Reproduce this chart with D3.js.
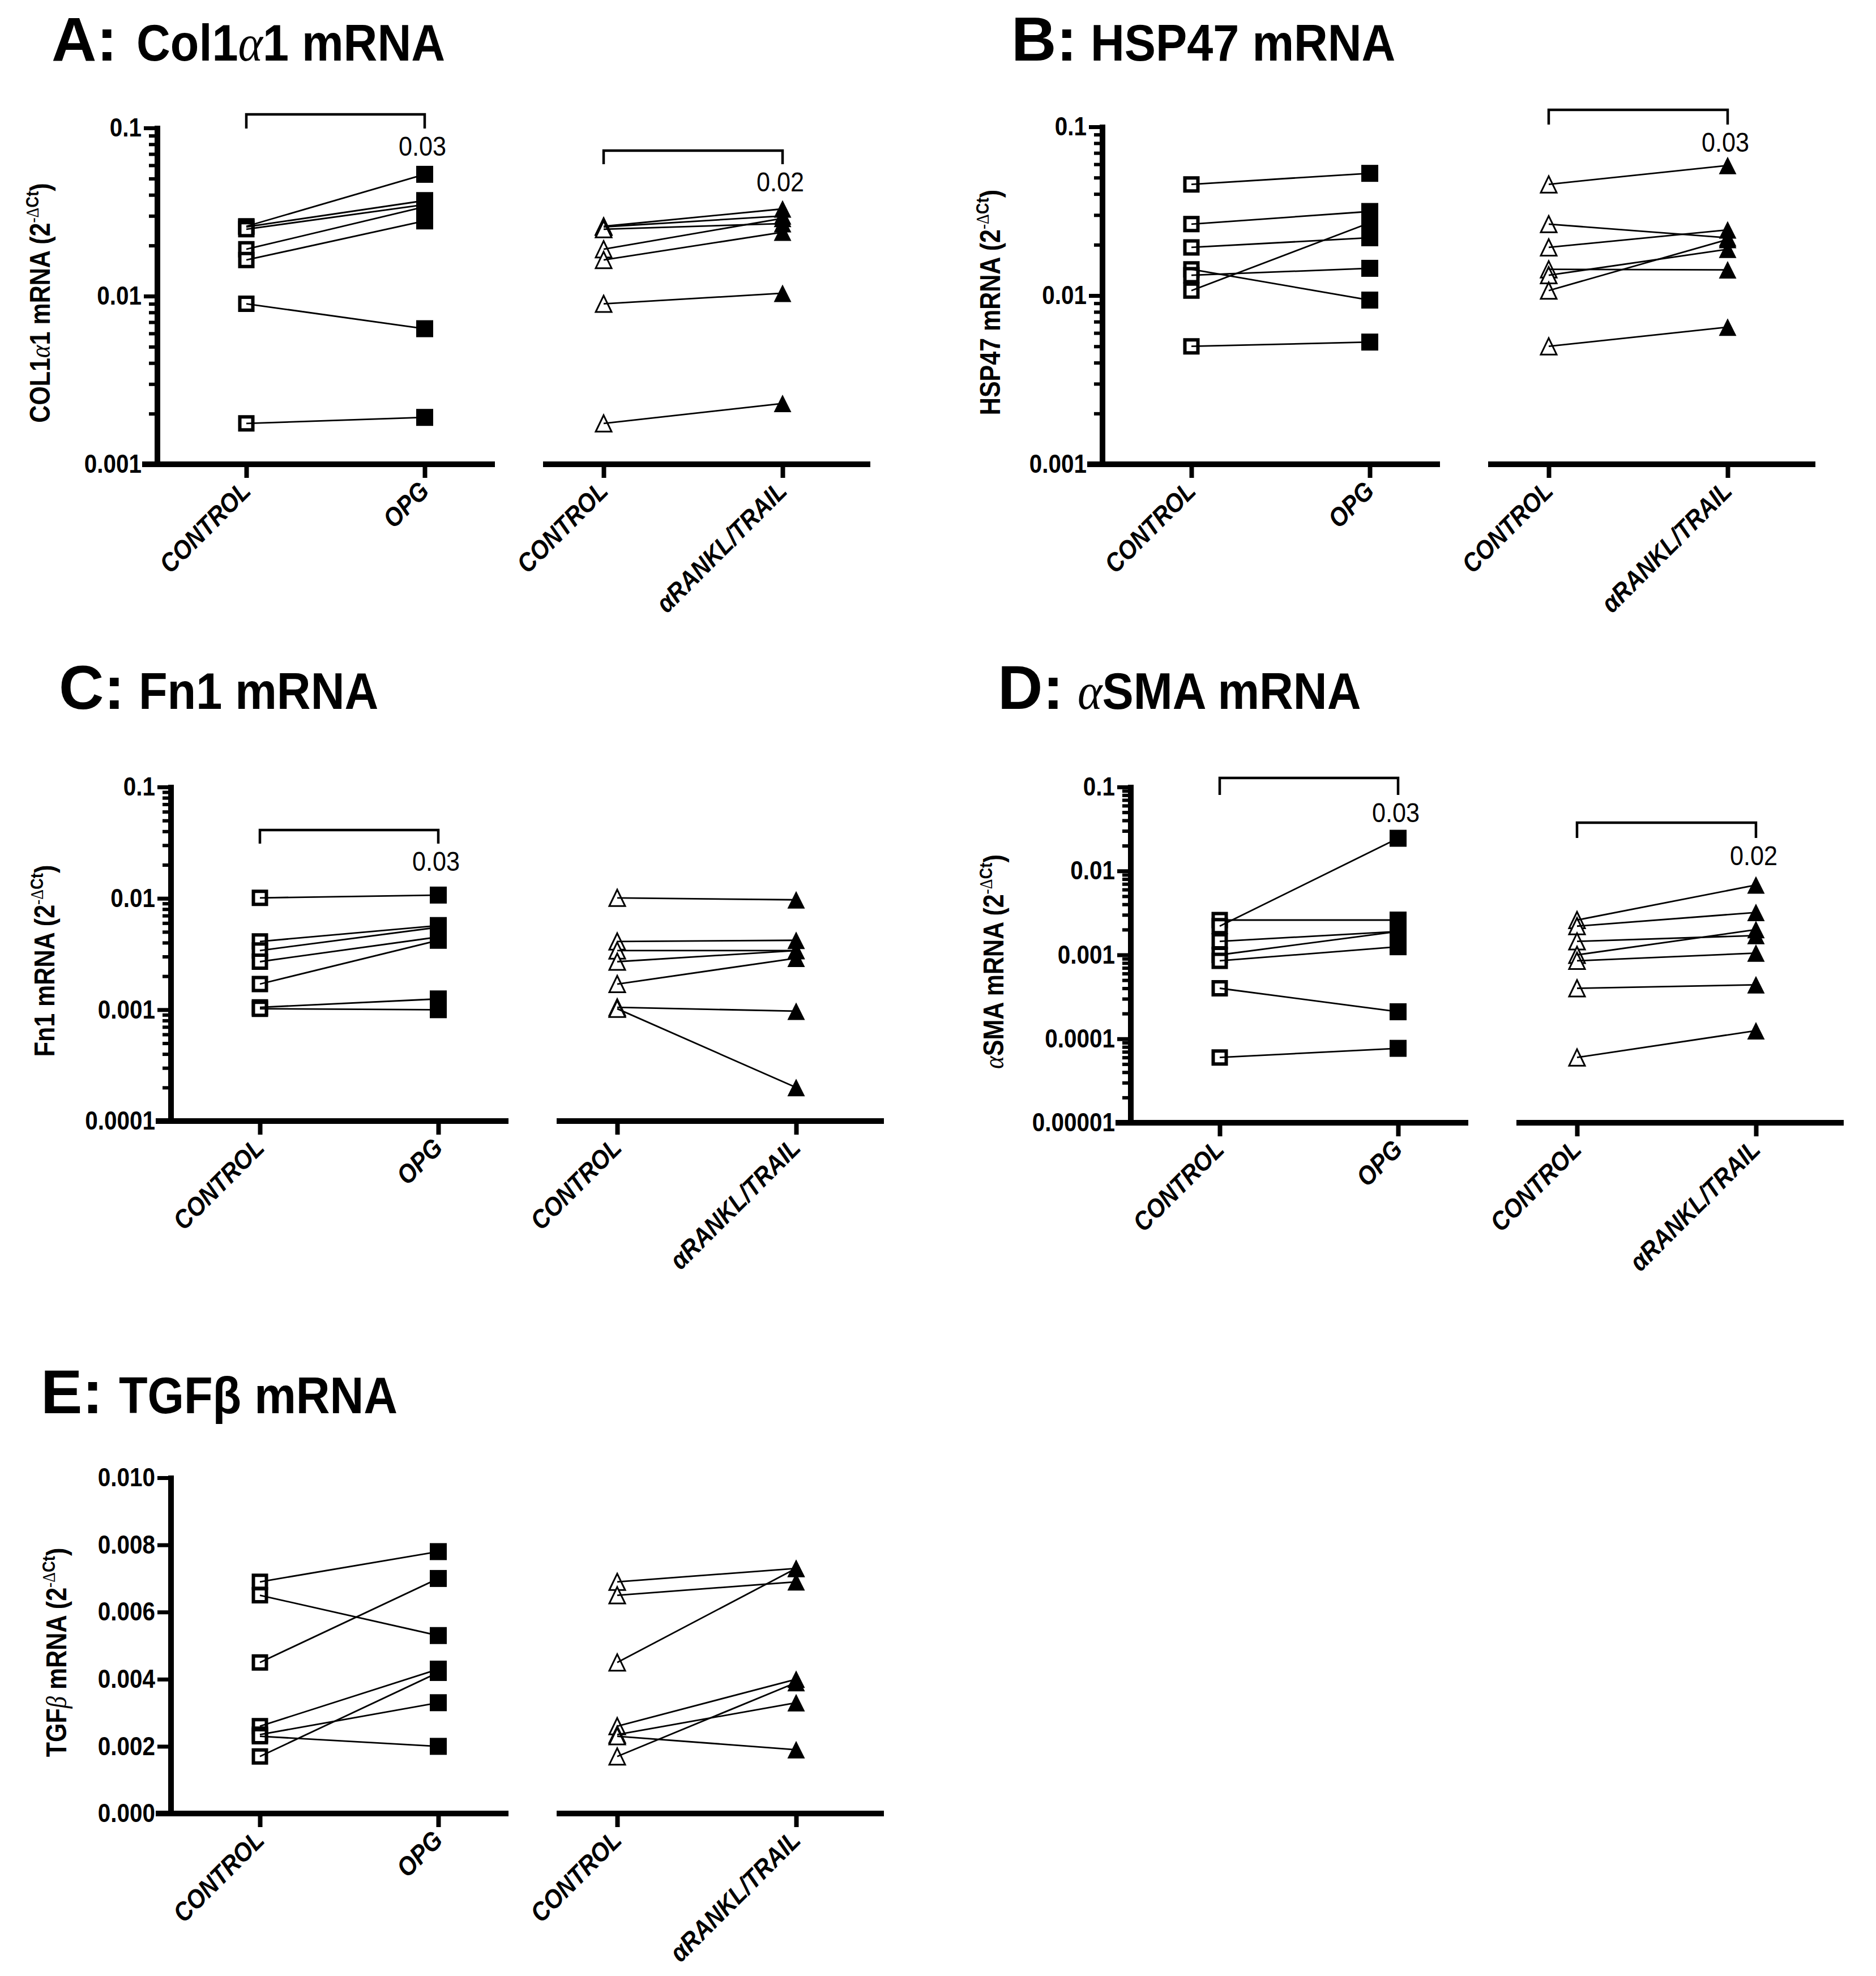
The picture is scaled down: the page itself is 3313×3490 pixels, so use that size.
<!DOCTYPE html>
<html>
<head>
<meta charset="utf-8">
<style>
  body { margin: 0; background: #fff; }
</style>
</head>
<body>
<script src="https://cdn.jsdelivr.net/npm/d3@7"></script>
<script>
// ---- categories ----
const leftGroups = ["CONTROL", "OPG"];
const rightGroups = ["CONTROL", "αRANKL/TRAIL"];

// ---- values, one entry per donor ----
// A: Col1a1
const col1a1Control = [0.026, 0.0258, 0.025, 0.019, 0.0164, 0.009, 0.00175];
const col1a1Opg     = [0.053, 0.037, 0.035, 0.034, 0.028, 0.0064, 0.0019];
const col1a1Rankl   = [0.033, 0.030, 0.027, 0.029, 0.024, 0.0104, 0.0023];
// B: HSP47
const hsp47Control = [0.0456, 0.0265, 0.0193, 0.0143, 0.0132, 0.0107, 0.0050];
const hsp47Opg     = [0.053, 0.0315, 0.022, 0.0094, 0.0145, 0.027, 0.0053];
const hsp47Rankl   = [0.059, 0.022, 0.0245, 0.0142, 0.0188, 0.0215, 0.0065];
// C: Fn1
const fn1Control = [0.0101, 0.0041, 0.0034, 0.0027, 0.0017, 0.00105, 0.00102];
const fn1Opg     = [0.0107, 0.0057, 0.0055, 0.0045, 0.0042, 0.00125, 0.0010];
const fn1Rankl   = [0.0097, 0.0042, 0.0034, 0.0034, 0.0029, 0.00097, 0.0002];
// D: aSMA
const smaControl = [0.0026, 0.0022, 0.00145, 0.001, 0.00085, 0.0004, 0.00006];
const smaOpg     = [0.0026, 0.0245, 0.0019, 0.0019, 0.00125, 0.00021, 0.000077];
const smaRankl   = [0.0068, 0.0032, 0.0017, 0.002, 0.00105, 0.00044, 0.000125];
// E: TGFb
const tgfbControl = [0.0069, 0.0065, 0.0045, 0.0026, 0.00235, 0.0023, 0.0017];
const tgfbOpg     = [0.0078, 0.0053, 0.0070, 0.0043, 0.0033, 0.0020, 0.0042];
const tgfbRankl   = [0.0073, 0.0069, 0.0073, 0.0040, 0.0033, 0.0019, 0.0039];

// ---- y tick values ----
const ticks3 = [0.001, 0.01, 0.1];
const ticks4 = [0.0001, 0.001, 0.01, 0.1];
const ticks5 = [0.00001, 0.0001, 0.001, 0.01, 0.1];
const ticksLin = [0, 0.002, 0.004, 0.006, 0.008, 0.010];

// p values shown over brackets (left pair, right pair)
const col1a1P = ["0.03", "0.02"];
const hsp47P  = [null, "0.03"];
const fn1P    = ["0.03", null];
const smaP    = ["0.03", "0.02"];

const FONT = '"Liberation Sans", Arial, Helvetica, sans-serif';
const SERIF = '"Liberation Serif", "Times New Roman", serif';

// panel layout (pixels); brackets are offsets from the plot top
const panels = [
  { prefix: "A:", name: [["Col1"], ["α", 1], ["1 mRNA"]],
    ylab: [["COL1"], ["α", 1], ["1 mRNA (2"]],
    control: col1a1Control, left: col1a1Opg, right: col1a1Rankl, ticks: ticks3, log: true, p: col1a1P,
    x: 278, top: 226, bottom: 820, tx: 91, tx2: 241, ty: 107, ylx: -190,
    br: [{ y: -24, foot: 1 }, { y: 40, foot: 64 }] },
  { prefix: "B:", name: [["HSP47 mRNA"]],
    ylab: [["HSP47 mRNA (2"]],
    control: hsp47Control, left: hsp47Opg, right: hsp47Rankl, ticks: ticks3, log: true, p: hsp47P,
    x: 1947, top: 224, bottom: 820, tx: 1786, tx2: 1926, ty: 107, ylx: -181,
    br: [null, { y: -30, foot: -4 }] },
  { prefix: "C:", name: [["Fn1 mRNA"]],
    ylab: [["Fn1 mRNA (2"]],
    control: fn1Control, left: fn1Opg, right: fn1Rankl, ticks: ticks4, log: true, p: fn1P,
    x: 302, top: 1390, bottom: 1980, tx: 104, tx2: 245, ty: 1252, ylx: -206,
    br: [{ y: 76, foot: 100 }, null] },
  { prefix: "D:", name: [["α", 1], ["SMA mRNA"]],
    ylab: [["α", 1], ["SMA mRNA  (2"]],
    control: smaControl, left: smaOpg, right: smaRankl, ticks: ticks5, log: true, p: smaP,
    x: 1997, top: 1390, bottom: 1983, tx: 1762, tx2: 1903, ty: 1252, ylx: -225,
    br: [{ y: -16, foot: 14 }, { y: 63, foot: 90 }] },
  { prefix: "E:", name: [["TGFβ mRNA"]],
    ylab: [["TGF"], ["β", 1], [" mRNA (2"]],
    control: tgfbControl, left: tgfbOpg, right: tgfbRankl, ticks: ticksLin, log: false, p: [null, null],
    x: 302, top: 2610, bottom: 3203, tx: 72, tx2: 210, ty: 2496, ylx: -185,
    br: [null, null] }
];

const W = 3313, H = 3490;
const svg = d3.select("body").append("svg")
    .attr("width", W).attr("height", H)
    .attr("viewBox", `0 0 ${W} ${H}`);
svg.append("rect").attr("width", W).attr("height", H).attr("fill", "#fff");

// Prism-style triangle: a bit taller than equilateral, centred on its box
function tallTriangle(w, h) {
  return { draw(ctx) {
    ctx.moveTo(0, -h / 2);
    ctx.lineTo(w / 2, h / 2);
    ctx.lineTo(-w / 2, h / 2);
    ctx.closePath();
  } };
}
const sqOpen = d3.symbol().type(d3.symbolSquare).size(23 * 23)();
const sqFill = d3.symbol().type(d3.symbolSquare).size(30 * 30)();
const triOpen = d3.symbol().type(tallTriangle(28, 29))();
const triFill = d3.symbol().type(tallTriangle(31, 31))();

// text pieces; a flag marks greek letters set in a light serif face
function addSegments(text, segs) {
  segs.forEach(s => {
    const t = text.append("tspan").text(s[0]);
    if (s[1]) t.attr("font-family", SERIF).attr("font-weight", "normal").attr("font-style", "italic");
  });
}

function drawPanel(p) {
  const h = p.bottom - p.top;
  const g = svg.append("g").attr("transform", `translate(${p.x},${p.top})`);

  // title
  svg.append("text")
      .attr("transform", `translate(${p.tx},${p.ty})`)
      .attr("font-family", FONT).attr("font-weight", "bold").attr("font-size", 110)
      .text(p.prefix);
  const tt = svg.append("text")
      .attr("transform", `translate(${p.tx2},${p.ty}) scale(0.91,1)`)
      .attr("font-family", FONT).attr("font-weight", "bold").attr("font-size", 91);
  addSegments(tt, p.name);

  const y = (p.log ? d3.scaleLog() : d3.scaleLinear())
      .domain([p.ticks[0], p.ticks[p.ticks.length - 1]])
      .range([h, 0]);

  // y axis: major ticks with labels
  const sx = 0.88;
  const ya = g.append("g").call(
      d3.axisLeft(y).tickValues(p.ticks).tickSize(24).tickSizeOuter(0).tickPadding(4)
        .tickFormat(p.log ? d => String(d) : d3.format(".3f")));
  ya.attr("font-family", FONT).attr("font-size", 46).attr("font-weight", "bold");
  ya.select(".domain").remove();
  ya.selectAll(".tick line").attr("stroke", "#000").attr("stroke-width", 7);
  ya.selectAll(".tick text").attr("fill", "#000")
      .attr("x", -28 / sx).attr("transform", `scale(${sx},1)`);

  // minor log ticks
  if (p.log) {
    const minors = [];
    p.ticks.slice(0, -1).forEach(t => { for (let k = 2; k < 10; k++) minors.push(t * k); });
    const ym = g.append("g").call(
        d3.axisLeft(y).tickValues(minors).tickSize(15).tickSizeOuter(0).tickFormat(""));
    ym.select(".domain").remove();
    ym.selectAll(".tick line").attr("stroke", "#000").attr("stroke-width", 6);
  }
  g.append("line").attr("x1", 0).attr("x2", 0).attr("y1", -4).attr("y2", h)
      .attr("stroke", "#000").attr("stroke-width", 10);

  // y label
  const yl = g.append("text")
      .attr("transform", `translate(${p.ylx},${h / 2 + 12}) rotate(-90) scale(0.86,1)`)
      .attr("text-anchor", "middle")
      .attr("font-family", FONT).attr("font-weight", "bold").attr("font-size", 50);
  addSegments(yl, p.ylab);
  yl.append("tspan").attr("font-size", 32).attr("dy", -20)
      .attr("font-family", SERIF).attr("font-weight", "normal").text("-Δ");
  yl.append("tspan").attr("font-size", 32).text("Ct");
  yl.append("tspan").attr("dy", 20).text(")");

  // two sub-plots sharing the y scale
  const subs = [
    { x: d3.scalePoint().domain(leftGroups).range([157, 472]), x0: -27, x1: 596,
      vals: p.left, open: sqOpen, fill: sqFill, sw: 6 },
    { x: d3.scalePoint().domain(rightGroups).range([788, 1104]), x0: 681, x1: 1259,
      vals: p.right, open: triOpen, fill: triFill, sw: 3 }
  ];

  subs.forEach((s, si) => {
    const gd = s.x.domain();
    g.append("line").attr("x1", s.x0).attr("x2", s.x1).attr("y1", h).attr("y2", h)
        .attr("stroke", "#000").attr("stroke-width", 10);
    const xa = g.append("g").attr("transform", `translate(0,${h})`)
        .call(d3.axisBottom(s.x).tickSize(24).tickSizeOuter(0));
    xa.attr("font-family", FONT).attr("font-size", 46).attr("font-weight", "bold");
    xa.select(".domain").remove();
    xa.selectAll(".tick line").attr("stroke", "#000").attr("stroke-width", 8);
    xa.selectAll(".tick text")
        .attr("x", 0).attr("y", 0).attr("dy", null)
        .attr("fill", "#000").attr("font-style", "italic")
        .attr("text-anchor", "end")
        .attr("transform", "translate(10,50) rotate(-45) scale(0.9,1)");

    const rows = p.control.map((c, i) => ({ c: c, t: s.vals[i] }));
    const cx = s.x(gd[0]), tx = s.x(gd[1]);

    g.append("g").selectAll("path").data(rows).join("path")
        .attr("d", s.open)
        .attr("transform", d => `translate(${cx},${y(d.c)})`)
        .attr("fill", "#fff").attr("stroke", "#000").attr("stroke-width", s.sw);
    g.append("g").selectAll("path").data(rows).join("path")
        .attr("d", s.fill)
        .attr("transform", d => `translate(${tx},${y(d.t)})`)
        .attr("fill", "#000");
    g.append("g").selectAll("line").data(rows).join("line")
        .attr("x1", cx).attr("y1", d => y(d.c))
        .attr("x2", tx).attr("y2", d => y(d.t))
        .attr("stroke", "#000").attr("stroke-width", 2.8);

    // significance bracket
    const b = p.br[si];
    if (b && p.p[si]) {
      g.append("path")
          .attr("d", `M${cx},${b.foot}V${b.y}H${tx}V${b.foot}`)
          .attr("fill", "none").attr("stroke", "#000").attr("stroke-width", 4.5);
      g.append("text")
          .attr("transform", `translate(${tx - 4},${b.foot + 48}) scale(0.9,1)`)
          .attr("text-anchor", "middle")
          .attr("font-family", FONT).attr("font-size", 48)
          .text(p.p[si]);
    }
  });
}

panels.forEach(drawPanel);
</script>
</body>
</html>
